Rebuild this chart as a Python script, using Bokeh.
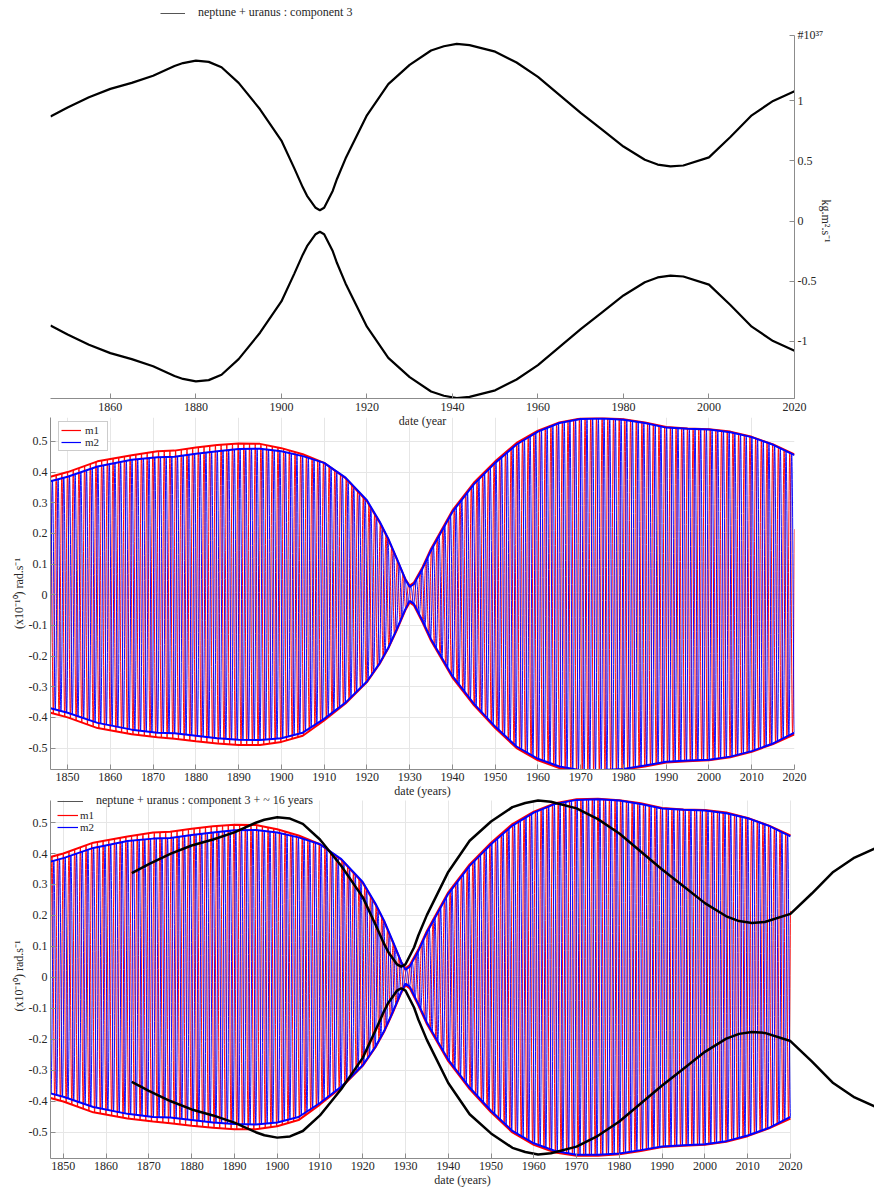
import math
import numpy as np
from bokeh.plotting import figure
from bokeh.models import Range1d, FixedTicker, Legend, LegendItem, CustomJSTickFormatter
from bokeh.layouts import column
from bokeh.embed import file_html
from bokeh.resources import INLINE

FONT = "Liberation Serif"
TXT = "#262626"
AXC = "#8c8c8c"
GRIDC = "#e6e6e6"
RED = "#ff0000"
BLUE = "#0000ff"
NAN2 = [float("nan"), float("nan")]   # legend-only swatch, nothing plotted

# ---------------- data ----------------
# top panel: neptune + uranus, component 3 envelope (x 1e37 kg.m^2.s^-1)
c3_years = [1846, 1850, 1855, 1860, 1865, 1870, 1875, 1877, 1880, 1883, 1886, 1890, 1895,
            1900, 1903, 1905, 1906, 1908, 1909, 1910, 1912, 1913, 1915, 1920, 1925, 1930,
            1935, 1938, 1941, 1944, 1950, 1955, 1960, 1965, 1970, 1975, 1980, 1985, 1988,
            1991, 1994, 2000, 2005, 2010, 2015, 2020]
c3_upper = [0.87, 0.945, 1.03, 1.10, 1.15, 1.21, 1.29, 1.315, 1.335, 1.325, 1.28, 1.15, 0.93,
            0.67, 0.44, 0.28, 0.21, 0.11, 0.09, 0.11, 0.25, 0.35, 0.52, 0.88, 1.14, 1.30,
            1.42, 1.455, 1.475, 1.465, 1.41, 1.32, 1.20, 1.05, 0.90, 0.76, 0.62, 0.51, 0.47,
            0.455, 0.462, 0.53, 0.70, 0.88, 1.00, 1.08]
c3_lower = [-v for v in c3_upper]

# bottom panel: the same component, shifted in time and expressed in rad/s units
c3_shift_years = 20.0
c3_to_rad = 0.387

# m1 / m2 envelopes (x 1e-10 rad.s^-1)
env_years = [1846, 1850, 1857, 1865, 1871, 1875, 1880, 1885, 1890, 1895, 1900, 1905,
             1910, 1915, 1920, 1923, 1925, 1927, 1929, 1930, 1931, 1933, 1935, 1940, 1945,
             1950, 1955, 1960, 1965, 1970, 1975, 1980, 1985, 1990, 1995, 2000, 2005, 2010,
             2015, 2020]
m1_upper = [0.385, 0.40, 0.435, 0.455, 0.468, 0.47, 0.48, 0.488, 0.493, 0.492, 0.478, 0.458,
            0.43, 0.38, 0.305, 0.235, 0.18, 0.115, 0.05, 0.03, 0.04, 0.09, 0.15, 0.275, 0.365,
            0.435, 0.495, 0.535, 0.562, 0.575, 0.577, 0.572, 0.562, 0.547, 0.542, 0.54, 0.532,
            0.515, 0.49, 0.458]
m2_upper = [0.37, 0.385, 0.418, 0.44, 0.448, 0.45, 0.46, 0.468, 0.475, 0.476, 0.468, 0.452,
            0.43, 0.382, 0.308, 0.238, 0.183, 0.118, 0.05, 0.025, 0.035, 0.085, 0.145, 0.27,
            0.36, 0.43, 0.49, 0.532, 0.56, 0.573, 0.575, 0.571, 0.56, 0.545, 0.541, 0.539,
            0.53, 0.514, 0.489, 0.455]
m1_lower = [-0.385, -0.40, -0.435, -0.455, -0.465, -0.47, -0.478, -0.485, -0.49, -0.49, -0.48,
            -0.46, -0.41, -0.355, -0.285, -0.225, -0.175, -0.115, -0.05, -0.025, -0.035, -0.09,
            -0.15, -0.27, -0.36, -0.435, -0.5, -0.54, -0.565, -0.575, -0.575, -0.57, -0.56,
            -0.547, -0.543, -0.54, -0.53, -0.512, -0.487, -0.455]
m2_lower = [-0.37, -0.385, -0.418, -0.44, -0.45, -0.452, -0.46, -0.468, -0.473, -0.474, -0.468,
            -0.45, -0.405, -0.352, -0.283, -0.223, -0.173, -0.112, -0.047, -0.02, -0.03, -0.085,
            -0.145, -0.265, -0.355, -0.43, -0.495, -0.535, -0.56, -0.572, -0.572, -0.568,
            -0.557, -0.545, -0.541, -0.538, -0.528, -0.51, -0.485, -0.45]

carrier_period = 1.33   # years between successive stripes
m2_lag = 0.45           # years, m2 stripes sit just right of m1 stripes

x_ticks_top = [1860, 1880, 1900, 1920, 1940, 1960, 1980, 2000, 2020]
y_ticks_top = [-1, -0.5, 0, 0.5, 1]
x_ticks = [1850, 1860, 1870, 1880, 1890, 1900, 1910, 1920, 1930, 1940, 1950, 1960,
           1970, 1980, 1990, 2000, 2010, 2020]
y_ticks = [-0.5, -0.4, -0.3, -0.2, -0.1, 0, 0.1, 0.2, 0.3, 0.4, 0.5]

# ---------------- oscillating series built on the read envelopes ----------------
t = np.arange(1846.0, 2020.0 + 1e-9, 0.02)


def oscill(upper, lower, lag):
    up = np.interp(t, env_years, upper)
    lo = np.interp(t, env_years, lower)
    return (up + lo) / 2 + (up - lo) / 2 * np.cos(2 * np.pi * (t - 1846.0 - lag) / carrier_period)


m1_sig = oscill(m1_upper, m1_lower, 0.0)
m2_sig = oscill(m2_upper, m2_lower, m2_lag)

FMT = "return Number(tick.toFixed(3)).toString();"
FMT_TOP = ("if (tick > 1.5) { return '#10\u00b3\u2077'; } "
           "return Number(tick.toFixed(3)).toString();")

LEFT = 50            # common left border of the three frames
RIGHT_EDGE = 794     # x of year 2020 in the two upper panels


def style_axis(ax, ticks, label, code=FMT):
    ax.ticker = FixedTicker(ticks=ticks)
    ax.formatter = CustomJSTickFormatter(code=code)
    ax.axis_label = label
    ax.axis_line_color = AXC
    ax.major_tick_line_color = AXC
    ax.minor_tick_line_color = None
    ax.major_tick_in = 5
    ax.major_tick_out = 0
    ax.major_label_text_font = FONT
    ax.major_label_text_font_size = "12px"
    ax.major_label_text_color = TXT
    ax.axis_label_text_font = FONT
    ax.axis_label_text_font_size = "12px"
    ax.axis_label_text_font_style = "normal"
    ax.axis_label_text_color = TXT
    ax.major_label_standoff = 3
    ax.axis_label_standoff = 0


def style_legend(lg, size="12px"):
    lg.label_text_font = FONT
    lg.label_text_font_size = size
    lg.label_text_color = TXT
    lg.label_height = 10
    lg.glyph_height = 10
    lg.spacing = 0
    lg.margin = 0


# ---------------- top panel ----------------
top_px_per_unit = 355 / 2.956
pA = figure(frame_width=RIGHT_EDGE - LEFT, frame_height=398, x_range=Range1d(1846, 2020),
            y_range=Range1d(-1.478, 1.478 + 43 / top_px_per_unit), y_axis_location="right",
            output_backend="svg", toolbar_location=None, title_location=None,
            min_border_left=LEFT, min_border_right=874 - RIGHT_EDGE, min_border_top=0,
            min_border_bottom=40)
pA.outline_line_color = None
pA.grid.visible = False
pA.border_fill_alpha = 0
pA.background_fill_alpha = 0
style_axis(pA.xaxis[0], x_ticks_top, "date (year")
pA.xaxis[0].major_label_standoff = 4
style_axis(pA.yaxis[0], y_ticks_top + [1.545], "kg.m².s⁻¹" + "\u00a0" * 15, code=FMT_TOP)
pA.yaxis[0].bounds = (-1.478, 1.545)
pA.yaxis[0].axis_label_orientation = -math.pi / 2
pA.yaxis[0].axis_label_standoff = 0
pA.line(c3_years, c3_upper, line_color="black", line_width=2.2)
pA.line(c3_years, c3_lower, line_color="black", line_width=2.2)
legA_line = pA.line(x=NAN2, y=NAN2, line_color="#555555", line_width=1)
legA = Legend(items=[LegendItem(label="neptune + uranus : component 3", renderers=[legA_line])],
              location=(110, 378), glyph_width=25, label_standoff=13, padding=0,
              border_line_color=None, background_fill_alpha=0)
style_legend(legA)
pA.add_layout(legA)


def osc_panel(fig):
    fig.outline_line_color = None
    fig.border_fill_alpha = 0
    fig.background_fill_alpha = 0
    fig.xgrid.ticker = FixedTicker(ticks=x_ticks)
    fig.ygrid.ticker = FixedTicker(ticks=y_ticks)
    fig.grid.grid_line_color = GRIDC
    fig.grid.grid_line_width = 1
    style_axis(fig.xaxis[0], x_ticks, "date (years)")
    style_axis(fig.yaxis[0], y_ticks, "(x10⁻¹⁰) rad.s⁻¹")
    fig.line(t, m1_sig, line_color=RED, line_width=1, line_alpha=0.95)
    fig.line(t, m2_sig, line_color=BLUE, line_width=1, line_alpha=0.95)
    fig.line(env_years, m1_upper, line_color=RED, line_width=2)
    fig.line(env_years, m1_lower, line_color=RED, line_width=2)
    fig.line(env_years, m2_upper, line_color=BLUE, line_width=2)
    fig.line(env_years, m2_lower, line_color=BLUE, line_width=2)
    s1 = fig.line(x=NAN2, y=NAN2, line_color=RED, line_width=1.2)
    s2 = fig.line(x=NAN2, y=NAN2, line_color=BLUE, line_width=1.2)
    return s1, s2


# ---------------- middle panel ----------------
pB = figure(frame_width=RIGHT_EDGE - LEFT, frame_height=352, x_range=Range1d(1846, 2020),
            y_range=Range1d(-0.57, 0.578), output_backend="svg", toolbar_location=None,
            title_location=None,
            min_border_left=LEFT, min_border_right=874 - RIGHT_EDGE, min_border_top=5,
            min_border_bottom=31, margin=(-26, 0, 0, 0))
b1, b2 = osc_panel(pB)
legB = Legend(items=[LegendItem(label="m1", renderers=[b1]), LegendItem(label="m2", renderers=[b2])],
              location=(8, 318), glyph_width=20, label_standoff=4, padding=2,
              border_line_color="#999999", border_line_width=1,
              background_fill_color="white", background_fill_alpha=1)
style_legend(legB, "11px")
pB.add_layout(legB)

# ---------------- bottom panel ----------------
bot_px_per_unit = 310.0
bot_y0, bot_y1 = -0.584, 0.571
bot_px_per_year = 4.277
pC = figure(frame_width=874 - LEFT, frame_height=365,
            x_range=Range1d(1847, 1847 + (874 - LEFT) / bot_px_per_year),
            y_range=Range1d(bot_y0, bot_y1 + 7 / bot_px_per_unit),
            output_backend="svg", toolbar_location=None, title_location=None,
            min_border_left=LEFT, min_border_right=0, min_border_top=2, min_border_bottom=28,
            margin=(-9, 0, 0, 0))
c1, c2 = osc_panel(pC)
pC.xaxis[0].bounds = (1847, 2020)
pC.yaxis[0].bounds = (bot_y0, bot_y1)
if "cross_bounds" in pC.xgrid[0].properties():
    pC.xgrid[0].cross_bounds = (bot_y0, bot_y1)
    pC.ygrid[0].cross_bounds = (1847, 2020)
c3_x = [y + c3_shift_years for y in c3_years]
pC.line(c3_x, [v * c3_to_rad for v in c3_upper], line_color="black", line_width=2.5)
pC.line(c3_x, [v * c3_to_rad for v in c3_lower], line_color="black", line_width=2.5)
legC_line = pC.line(x=NAN2, y=NAN2, line_color="#555555", line_width=1)
legC1 = Legend(items=[LegendItem(label="neptune + uranus : component 3 + ~ 16 years", renderers=[legC_line])],
               location=(7, 350), glyph_width=26, label_standoff=13, padding=0,
               border_line_color=None, background_fill_alpha=0)
style_legend(legC1)
pC.add_layout(legC1)
legC2 = Legend(items=[LegendItem(label="m1", renderers=[c1]), LegendItem(label="m2", renderers=[c2])],
               location=(7, 325), glyph_width=21, label_standoff=2, padding=0,
               border_line_color=None, background_fill_alpha=0)
style_legend(legC2, "11px")
pC.add_layout(legC2)

layout = column(pA, pB, pC)
open("out.html", "w").write(file_html(layout, INLINE))
